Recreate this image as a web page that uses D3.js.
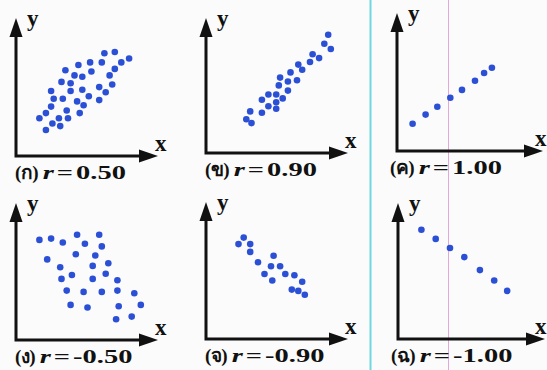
<!DOCTYPE html>
<html>
<head>
<meta charset="utf-8">
<script src="https://cdn.jsdelivr.net/npm/d3@7"></script>
<style>
  html, body { margin: 0; padding: 0; background: #fbfbfb; }
  svg { display: block; }
  .cap { font-family: "Liberation Serif", "Times New Roman", serif; font-weight: bold; font-size: 19px; fill: #111; }
  .ax { font-family: "Liberation Serif", "Times New Roman", serif; font-weight: bold; font-size: 23px; fill: #111; }
</style>
</head>
<body>
<div id="chart"></div>
<script>
// panel labels (Thai letters) and correlation values
var panelLetters = ['ก', 'ข', 'ค', 'ง', 'จ', 'ฉ'];
var rValues = ['0.50', '0.90', '1.00', '-0.50', '-0.90', '-1.00'];

// scatter points per panel, [x, y] in 0..10 units
var pointsA = [
  [6.8,7.9],[7.6,8.0],[8.7,7.5],[8.1,7.2],[7.6,6.7],[5.7,7.2],[6.6,7.2],[4.8,7.0],
  [3.8,6.6],[5.8,6.5],[4.5,6.2],[5.1,6.1],[7.2,6.2],[3.5,5.7],[4.2,5.6],[7.4,5.5],
  [6.4,5.3],[2.7,5.0],[4.2,5.0],[5.1,5.1],[6.9,4.9],[5.6,4.6],[2.9,4.4],[3.6,4.4],
  [4.7,4.2],[6.4,4.3],[2.7,3.8],[5.2,3.9],[3.9,3.5],[4.9,3.3],[2.3,3.3],[1.8,2.9],
  [3.3,2.9],[4.0,2.9],[2.8,2.5],[3.4,2.3],[2.3,2.0]
];
var pointsB = [
  [9.4,9.1],[9.1,8.4],[9.6,8.0],[8.2,7.6],[8.7,7.3],[8.0,7.0],[7.1,6.8],[7.4,6.4],
  [6.5,6.2],[5.7,5.8],[6.3,5.5],[7.0,5.6],[5.6,5.2],[6.3,4.8],[4.8,4.5],[5.4,4.5],
  [4.3,4.1],[5.9,4.2],[5.4,3.9],[4.8,3.6],[5.4,3.4],[4.3,3.1],[3.4,3.2],[3.1,2.6],
  [3.5,2.3]
];
var pointsC = [
  [1.2,2.1],[2.2,2.8],[3.1,3.4],[4.1,4.1],[5.0,4.7],[6.0,5.4],[6.7,6.0],[7.3,6.4]
];
var pointsD = [
  [1.8,7.7],[2.7,7.8],[3.6,7.5],[4.7,8.1],[5.3,7.4],[6.4,8.1],[6.6,7.2],[4.6,6.6],
  [6.1,6.5],[2.4,6.2],[3.4,5.6],[5.9,5.7],[7.1,5.9],[3.5,4.7],[4.3,5.0],[5.9,4.7],
  [6.9,5.1],[7.8,4.6],[3.9,3.8],[5.2,3.7],[6.6,3.7],[7.8,3.8],[9.1,3.6],[4.2,2.7],
  [5.5,2.5],[7.9,2.6],[9.6,2.7],[7.7,1.6],[8.9,1.8]
];
var pointsE = [
  [2.9,7.8],[2.5,7.3],[3.4,7.3],[3.4,6.7],[4.0,5.9],[5.2,6.4],[5.0,5.6],[5.7,5.6],
  [4.5,5.0],[6.1,5.0],[6.8,4.9],[5.1,4.5],[7.4,4.4],[6.6,3.8],[7.1,3.7],[7.6,3.4]
];
var pointsF = [
  [1.8,8.4],[2.9,7.7],[4.0,7.0],[5.1,6.3],[6.3,5.3],[7.4,4.5],[8.4,3.7]
];
var seriesList = [pointsA, pointsB, pointsC, pointsD, pointsE, pointsF];

// panel origins (axis corner) and axis lengths
var panels = [
  { ox: 16,  oy: 156, w: 142, h: 138 },
  { ox: 206, oy: 153, w: 142, h: 135 },
  { ox: 397, oy: 151, w: 146, h: 138 },
  { ox: 16,  oy: 340, w: 142, h: 137 },
  { ox: 206, oy: 339, w: 142, h: 137 },
  { ox: 398, oy: 339, w: 147, h: 136 }
];

var width = 547, height = 370, unit = 130, stretch = 1.5;

var svg = d3.select('#chart')
  .append('svg')
    .attr('width', width)
    .attr('height', height);

svg.append('rect')
  .attr('width', width)
  .attr('height', height)
  .attr('fill', '#fbfbfb');

// scan guide lines
svg.append('line')
  .attr('x1', 370.5).attr('x2', 370.5).attr('y1', 0).attr('y2', height)
  .attr('stroke', '#6fd8e2').attr('stroke-width', 2);
svg.append('line')
  .attr('x1', 448.5).attr('x2', 448.5).attr('y1', 0).attr('y2', height)
  .attr('stroke', '#e4a8d8').attr('stroke-width', 1);

// stretched caption piece, returns its drawn width
function capText(g, x, y, str, italic) {
  var t = g.append('text').attr('class', 'cap')
    .attr('transform', 'translate(' + x + ',' + y + ') scale(' + stretch + ',1)')
    .text(str);
  if (italic) t.attr('font-style', 'italic');
  return t.node().getComputedTextLength() * stretch;
}

panels.forEach(function (p, i) {
  var x = d3.scaleLinear().domain([0, 10]).range([p.ox, p.ox + unit]),
      y = d3.scaleLinear().domain([0, 10]).range([p.oy, p.oy - unit]);

  var g = svg.append('g').classed('panel', true);

  // axes
  g.append('path')
    .attr('d', 'M' + p.ox + ',' + (p.oy - p.h + 14) + 'V' + p.oy + 'H' + (p.ox + p.w - 16))
    .attr('fill', 'none')
    .attr('stroke', '#111')
    .attr('stroke-width', 3);
  // arrow heads
  g.append('path')
    .attr('d', 'M' + p.ox + ',' + (p.oy - p.h) +
      'L' + (p.ox + 6.5) + ',' + (p.oy - p.h + 19) +
      'L' + (p.ox - 6.5) + ',' + (p.oy - p.h + 19) + 'Z')
    .attr('fill', '#111');
  g.append('path')
    .attr('d', 'M' + (p.ox + p.w) + ',' + p.oy +
      'L' + (p.ox + p.w - 19) + ',' + (p.oy - 6.5) +
      'L' + (p.ox + p.w - 19) + ',' + (p.oy + 6.5) + 'Z')
    .attr('fill', '#111');

  g.append('text').attr('class', 'ax')
    .attr('x', p.ox + 11).attr('y', p.oy - p.h + 8)
    .text('y');
  g.append('text').attr('class', 'ax')
    .attr('x', Math.min(p.ox + p.w - 3, 535)).attr('y', p.oy - 5)
    .text('x');

  g.selectAll('circle')
    .data(seriesList[i])
    .enter().append('circle')
      .attr('cx', function (d) { return x(d[0]); })
      .attr('cy', function (d) { return y(d[1]); })
      .attr('r', 3.3)
      .attr('fill', '#2b50d6');

  // caption: "(letter) r = value", pieces kept apart so the Thai letter
  // does not drag the digits into its fallback font
  var cx = p.ox - (i % 3 === 2 ? 7 : 1),
      cy = p.oy + 23,
      cur = cx;
  var open = g.append('text').attr('class', 'cap').attr('x', cur).attr('y', cy).text('(');
  cur += open.node().getComputedTextLength() - 0.5;
  var letter = g.append('text').attr('class', 'cap').attr('x', cur).attr('y', cy)
    .attr('font-size', 14).text(panelLetters[i]);
  cur += letter.node().getComputedTextLength() - 0.5;
  var close = g.append('text').attr('class', 'cap').attr('x', cur).attr('y', cy).text(')');
  cur += close.node().getComputedTextLength() + 4;

  cur += capText(g, cur, cy, 'r', true) + 3;
  cur += capText(g, cur, cy, '=') + 3;
  capText(g, cur, cy, rValues[i]);
});
</script>
</body>
</html>
